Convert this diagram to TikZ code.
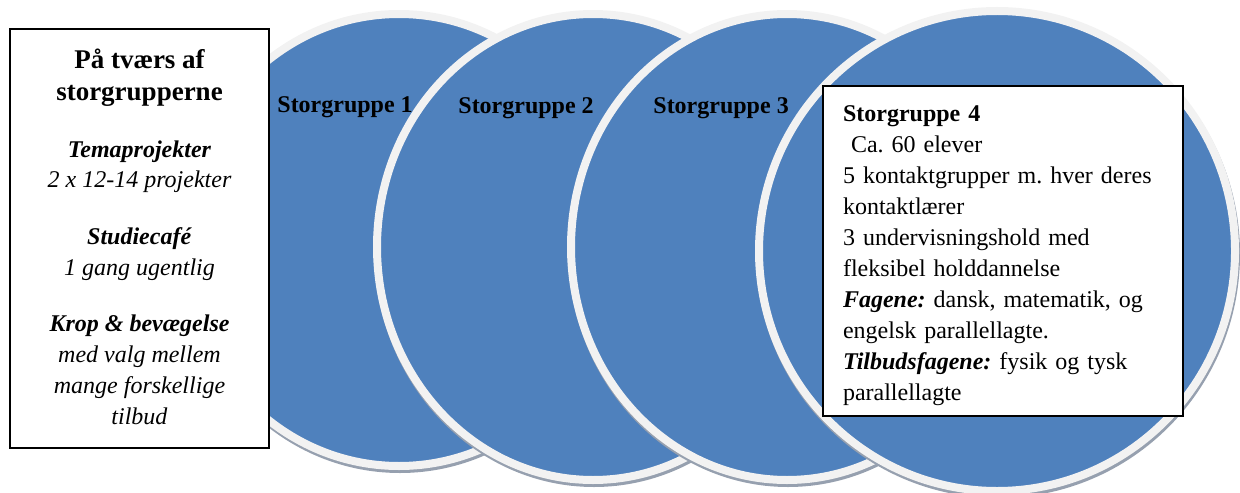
\documentclass[tikz,border=0pt]{standalone}
\usepackage{fontspec}
\setmainfont{Liberation Serif}
\usetikzlibrary{shapes.geometric,shadows}
\definecolor{groupblue}{HTML}{4F81BD}
\definecolor{ringgrey}{HTML}{F2F2F2}
\definecolor{shadowgrey}{RGB}{150,160,175}
\frenchspacing

\begin{document}
\begin{tikzpicture}[x=0.5pt,y=-0.5pt,
  every node/.style={font=\fontsize{12}{15.5}\selectfont},
  group/.style={ellipse,fill=groupblue,draw=ringgrey,line width=4pt,inner sep=0pt,
    drop shadow={shadow xshift=0.5pt,shadow yshift=-1.5pt,fill=shadowgrey,
      draw=shadowgrey,line width=4pt,opacity=1}},
  infobox/.style={rectangle,draw=black,fill=white,line width=0.75pt},
  grouplabel/.style={anchor=west,inner sep=0pt,font=\fontsize{12}{15.5}\selectfont\bfseries}]
  \useasboundingbox (0,0) rectangle (1240,492);

  % The four big groups, left to right
  \node[group,minimum width=216pt,minimum height=226pt] (g1) at (399,240) {};
  \node[group,minimum width=216pt,minimum height=233pt] (g2) at (593,247) {};
  \node[group,minimum width=216pt,minimum height=233pt] (g3) at (787,247) {};
  \node[group,minimum width=238pt,minimum height=240pt] (g4) at (997,251) {};

  % Labels in the groups
  \node[grouplabel] (l1) at (277,107) {Storgruppe 1};
  \node[grouplabel] (l2) at (458,108) {Storgruppe 2};
  \node[grouplabel] (l3) at (653,108) {Storgruppe 3};

  % Box across the groups
  \node[infobox,minimum width=129.5pt,minimum height=209.5pt,align=center] (across) at (139.5,238.5) {%
    {\fontsize{13.5}{17}\selectfont\bfseries På tværs af}\\[0.5pt]
    {\fontsize{13.5}{17}\selectfont\bfseries storgrupperne}\\[13pt]
    \textbf{\textit{Temaprojekter}}\\[-0.5pt]
    \textit{2 x 12-14 projekter}\\[13pt]
    \textbf{\textit{Studiecafé}}\\
    \textit{1 gang ugentlig}\\[12.5pt]
    \textbf{\textit{Krop \& bevægelse}}\\
    \textit{med valg mellem}\\
    \textit{mange forskellige}\\
    \textit{tilbud}\rule[-2pt]{0pt}{2pt}};

  % Box for group 4
  \node[infobox,minimum width=180pt,minimum height=165pt,align=left,
    text width=160pt,inner xsep=10pt] (detail) at (1003,251) {%
    \rule{0pt}{13pt}\textbf{Storgruppe 4}\\
    \ Ca. 60 elever\\
    5 kontaktgrupper m. hver deres\\
    kontaktlærer\\
    3 undervisningshold med\\
    fleksibel holddannelse\\
    \textbf{\textit{Fagene:}} dansk, matematik, og\\
    engelsk parallellagte.\\
    \textbf{\textit{Tilbudsfagene:}} fysik og tysk\\
    parallellagte};
\end{tikzpicture}
\end{document}
